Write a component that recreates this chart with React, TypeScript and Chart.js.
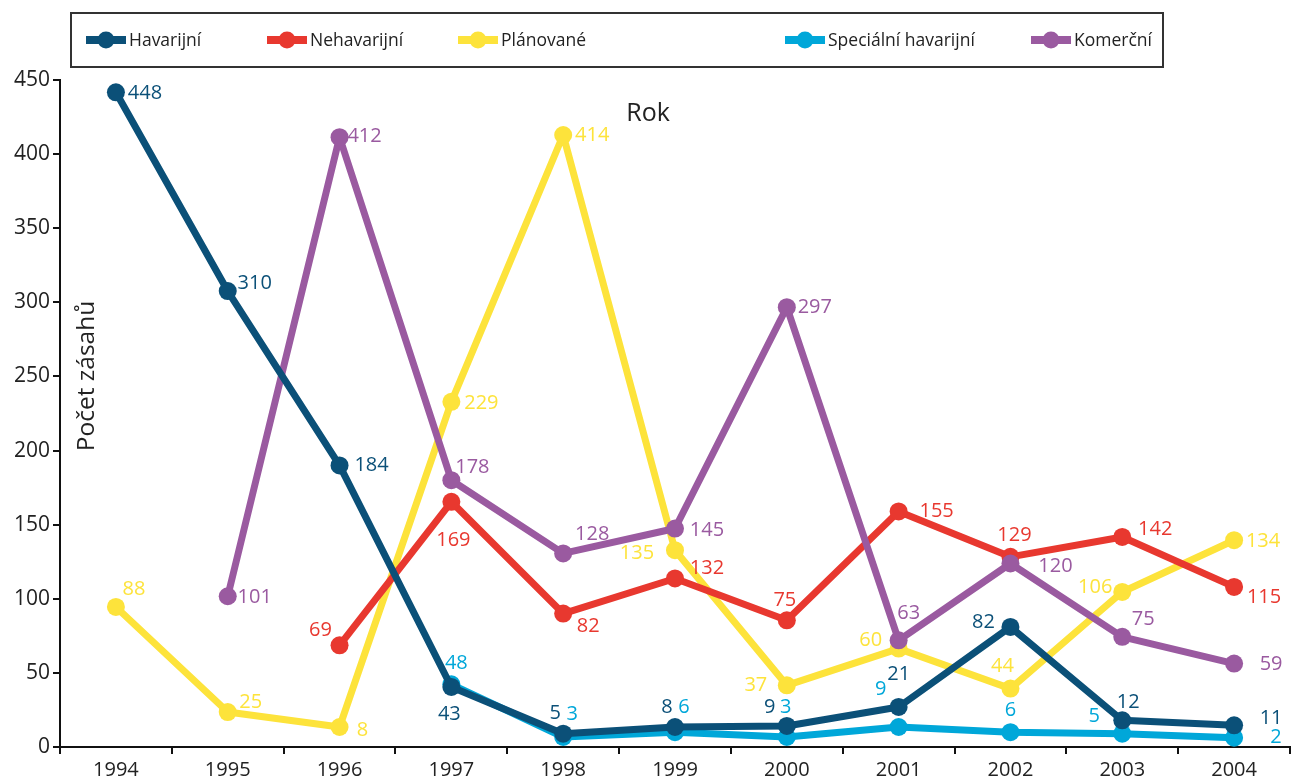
import React, { useEffect, useRef } from "react";
import { Chart, registerables } from "chart.js";

Chart.register(...registerables);

// ---------- data ----------
const YEARS = ["1994", "1995", "1996", "1997", "1998", "1999", "2000", "2001", "2002", "2003", "2004"];

const SERIES_NAMES = ["Havarijní", "Nehavarijní", "Plánované", "Speciální havarijní", "Komerční"];

// plotted positions
const HAVARIJNI = [441.7, 307.6, 190, 40.5, 9, 13.5, 14.2, 27, 81, 18, 14.6];
const NEHAVARIJNI = [null, null, 68.6, 165.4, 90, 113.7, 85.5, 158.9, 128.3, 141.7, 108];
const PLANOVANE = [94.5, 23.6, 13.5, 232.9, 412.9, 132.8, 41.6, 66.4, 39.4, 104.6, 139.5];
const SPECIALNI = [null, null, null, 42.3, 6.75, 10, 6.75, 13.5, 10, 9, 6.3];
const KOMERCNI = [null, 101.7, 411.4, 180, 130.6, 147.4, 296.7, 72, 123.8, 74.3, 56.3];

// value labels printed next to the points
const HAVARIJNI_LABELS = ["448", "310", "184", "43", "5", "8", "9", "21", "82", "12", "11"];
const NEHAVARIJNI_LABELS = [null, null, "69", "169", "82", "132", "75", "155", "129", "142", "115"];
const PLANOVANE_LABELS = ["88", "25", "8", "229", "414", "135", "37", "60", "44", "106", "134"];
const SPECIALNI_LABELS = [null, null, null, "48", "3", "6", "3", "9", "6", "5", "2"];
const KOMERCNI_LABELS = [null, "101", "412", "178", "128", "145", "297", "63", "120", "75", "59"];

const Y_TICKS = [0, 50, 100, 150, 200, 250, 300, 350, 400, 450];

const X_TITLE = "Rok";
const Y_TITLE = "Počet zásahů";

// ---------- styling ----------
const COLORS = ["#0b5078", "#e8382f", "#fde33b", "#00a7d9", "#9a5aa0"];
const FONT = "'Open Sans', 'Noto Sans', sans-serif";

// label offsets (dx, dy) from the point, per series per year
const LABEL_OFFSETS: ([number, number] | null)[][] = [
  [[29, 1], [27, -8], [32, 0], [-2, 27], [-8, -20], [-8, -20], [-17, -19], [0, -33], [-27, -5], [6, -18], [37, -7]],
  [null, null, [-19, -15], [2, 38], [25, 13], [32, -10], [-2, -20], [38, 0], [4, -22], [33, -8], [30, 10]],
  [[18, -18], [23, -10], [23, 3], [30, 2], [29, 0], [-38, 3], [-31, 0], [-28, -8], [-8, -22], [-27, -5], [29, 1]],
  [null, null, null, [5, -21], [9, -23], [9, -25], [-1, -30], [-18, -38], [0, -22], [-28, -17], [42, 0]],
  [null, [27, 1], [25, -1], [21, -13], [29, -19], [32, 2], [28, 0], [10, -27], [45, 3], [21, -18], [37, 1]],
];

const LEGEND_X = [86, 267, 458, 785, 1031];

const labelPlugin = {
  id: "valueLabels",
  afterDatasetsDraw(chart: any) {
    const ctx = chart.ctx;
    const labelSets = [HAVARIJNI_LABELS, NEHAVARIJNI_LABELS, PLANOVANE_LABELS, SPECIALNI_LABELS, KOMERCNI_LABELS];
    ctx.save();
    ctx.font = `20px ${FONT}`;
    ctx.textAlign = "center";
    ctx.textBaseline = "middle";
    chart.data.datasets.forEach((ds: any, i: number) => {
      const meta = chart.getDatasetMeta(i);
      ctx.fillStyle = COLORS[i];
      meta.data.forEach((el: any, j: number) => {
        const txt = labelSets[i][j];
        const off = LABEL_OFFSETS[i][j];
        if (txt == null || off == null || ds.data[j] == null) return;
        ctx.fillText(txt, el.x + off[0], el.y + off[1]);
      });
    });
    ctx.restore();
  },
};

const decorPlugin = {
  id: "decor",
  afterDraw(chart: any) {
    const ctx = chart.ctx;
    const area = chart.chartArea;
    ctx.save();
    // legend box
    ctx.strokeStyle = "#333";
    ctx.lineWidth = 2;
    ctx.strokeRect(71, 13, 1092, 54);
    SERIES_NAMES.forEach((name, i) => {
      const sx = LEGEND_X[i];
      const cy = 40;
      ctx.strokeStyle = COLORS[i];
      ctx.fillStyle = COLORS[i];
      ctx.lineWidth = 8;
      ctx.beginPath();
      ctx.moveTo(sx, cy);
      ctx.lineTo(sx + 40, cy);
      ctx.stroke();
      ctx.beginPath();
      ctx.arc(sx + 20, cy, 8.5, 0, Math.PI * 2);
      ctx.fill();
      ctx.fillStyle = "#222";
      ctx.font = `17.5px ${FONT}`;
      ctx.textAlign = "left";
      ctx.textBaseline = "middle";
      ctx.fillText(name, sx + 43, cy + 1);
    });
    // "Rok"
    ctx.fillStyle = "#222";
    ctx.font = `25px ${FONT}`;
    ctx.textAlign = "center";
    ctx.textBaseline = "middle";
    ctx.fillText(X_TITLE, 648, 114);
    // y title
    ctx.save();
    ctx.translate(area.left + 27, 376);
    ctx.rotate(-Math.PI / 2);
    ctx.font = `24.5px ${FONT}`;
    ctx.fillText(Y_TITLE, 0, 0);
    ctx.restore();
    ctx.restore();
  },
};

export default function App() {
  const ref = useRef<HTMLCanvasElement | null>(null);

  useEffect(() => {
    if (!ref.current) return;
    const values = [HAVARIJNI, NEHAVARIJNI, PLANOVANE, SPECIALNI, KOMERCNI];
    const order = [0, 2, 3, 4, 1];
    const chart = new Chart(ref.current, {
      type: "line",
      data: {
        labels: YEARS,
        datasets: values.map((v, i) => ({
          label: SERIES_NAMES[i],
          data: v as any,
          borderColor: COLORS[i],
          backgroundColor: COLORS[i],
          pointBackgroundColor: COLORS[i],
          pointBorderWidth: 0,
          pointRadius: 9,
          borderWidth: 7,
          borderJoinStyle: "round" as const,
          borderCapStyle: "round" as const,
          tension: 0,
          fill: false,
          order: order[i],
        })),
      },
      options: {
        responsive: false,
        devicePixelRatio: 1,
        animation: false,
        layout: { padding: { top: 80, right: 2, left: 0, bottom: 0 } },
        plugins: {
          legend: { display: false },
          tooltip: { enabled: false },
          title: { display: false },
        },
        scales: {
          x: {
            type: "category",
            offset: true,
            grid: { offset: true, drawOnChartArea: false, drawTicks: true, tickLength: 7, color: "#111", lineWidth: 2 },
            border: { display: true, color: "#111", width: 2 },
            ticks: { font: { family: FONT, size: 20 }, color: "#222", padding: 4, maxRotation: 0, autoSkip: false },
            afterFit: (s: any) => { s.height = 36; },
          },
          y: {
            min: 0,
            max: 450,
            afterBuildTicks: (s: any) => { s.ticks = Y_TICKS.map((v) => ({ value: v })); },
            grid: { drawOnChartArea: false, drawTicks: true, tickLength: 7, color: "#111", lineWidth: 2 },
            border: { display: true, color: "#111", width: 2 },
            ticks: { font: { family: FONT, size: 21 }, color: "#222", padding: 3 },
            afterFit: (s: any) => { s.width = 60; },
          },
        },
      },
      plugins: [labelPlugin, decorPlugin],
    });
    return () => chart.destroy();
  }, []);

  return (
    <div style={{ position: "absolute", left: 0, top: 0, width: 1299, height: 783, background: "#fff" }}>
      <canvas ref={ref} width={1299} height={783} style={{ width: 1299, height: 783, display: "block" }} />
    </div>
  );
}
